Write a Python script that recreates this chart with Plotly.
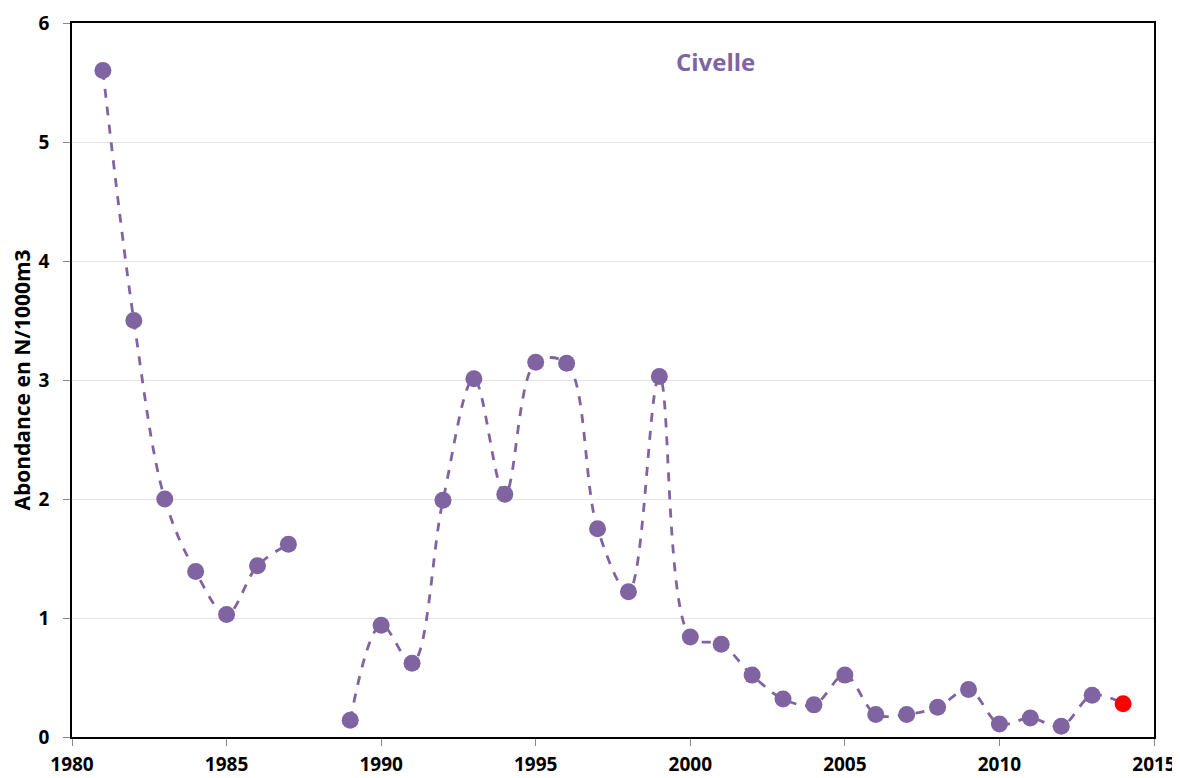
import plotly.graph_objects as go

years = list(range(1981, 2015))
values = [5.6, 3.5, 2.0, 1.39, 1.03, 1.44, 1.62, None, 0.14, 0.94,
          0.62, 1.99, 3.01, 2.04, 3.15, 3.14, 1.75, 1.22, 3.03, 0.84,
          0.78, 0.52, 0.32, 0.27, 0.52, 0.19, 0.19, 0.25, 0.40, 0.11,
          0.16, 0.09, 0.35, 0.28]
x_ticks = [1980, 1985, 1990, 1995, 2000, 2005, 2010, 2015]
y_ticks = [0, 1, 2, 3, 4, 5, 6]

purple = "#8064A2"
marker_colors = [purple] * (len(years) - 1) + ["#FF0000"]

fig = go.Figure()
fig.add_trace(go.Scatter(
    x=years, y=values, mode="lines+markers",
    line=dict(color=purple, width=2.8, dash="dash", shape="spline", smoothing=1),
    marker=dict(size=17, color=marker_colors),
    connectgaps=False, showlegend=False,
))

fig.add_annotation(x=2000.8, y=5.68, text="<b>Civelle</b>", showarrow=False,
                   font=dict(family="Open Sans", size=24, color=purple))

font_ticks = dict(family="Open Sans", size=19, color="black", weight="bold")
fig.update_layout(
    width=1172, height=770,
    margin=dict(l=64, r=26, t=15, b=41),
    plot_bgcolor="white", paper_bgcolor="white",
    xaxis=dict(range=[1980, 2015], tickvals=x_ticks, ticks="outside", ticklen=7,
               tickcolor="#888", showgrid=False, showline=True, linecolor="black",
               linewidth=1.5, mirror=True, tickfont=font_ticks, zeroline=False,
               automargin=False, ticklabelstandoff=2),
    yaxis=dict(range=[0, 6], tickvals=y_ticks, ticks="outside", ticklen=7,
               tickcolor="#888", showgrid=True, gridcolor="#E4E4E4", gridwidth=1,
               showline=True, linecolor="black", linewidth=1.5, mirror=True,
               tickfont=font_ticks, zeroline=False, automargin=False,
               ticklabelstandoff=10,
               title=dict(text="Abondance en N/1000m3", standoff=8,
                          font=dict(family="Open Sans", size=21, color="black", weight="bold"))),
)

fig.write_html("out.html")
